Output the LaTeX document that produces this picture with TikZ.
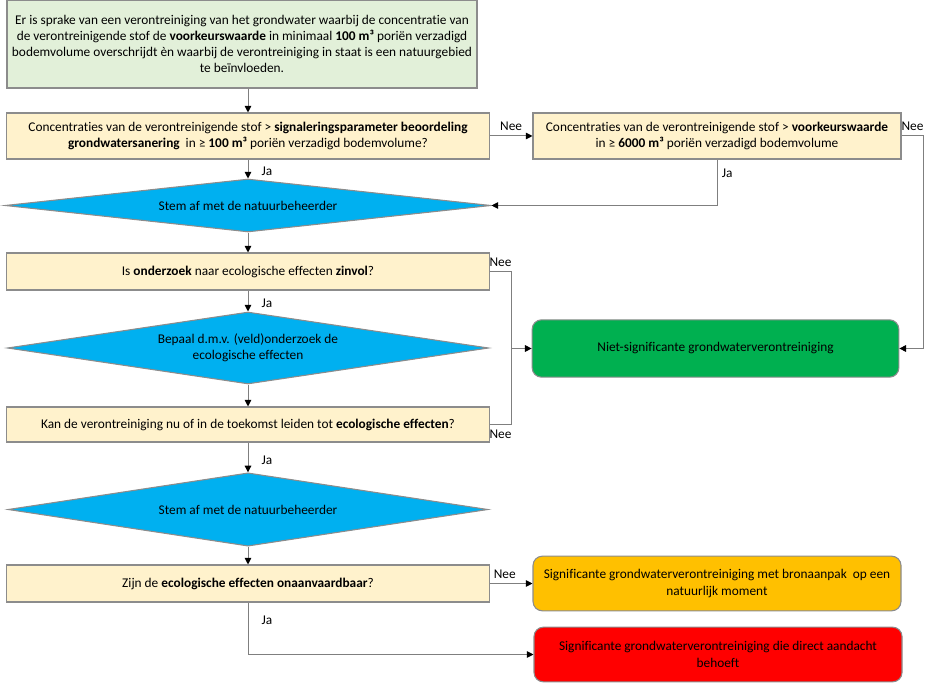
\documentclass[tikz,border=0pt]{standalone}
\usepackage{fontspec}
\setmainfont{Carlito}[Ligatures={NoCommon}, RawFeature={-clig;-calt}]
\usetikzlibrary{shapes.geometric, arrows.meta}

\definecolor{startgroen}{HTML}{E2F0D9}
\definecolor{vraaggeel}{HTML}{FFF2CC}
\definecolor{stapblauw}{HTML}{00B0F0}
\definecolor{eindgroen}{HTML}{00B050}
\definecolor{eindoranje}{HTML}{FFC000}
\definecolor{eindrood}{HTML}{FF0000}
\definecolor{rand}{HTML}{8C8C8C}
\definecolor{lijn}{HTML}{7F7F7F}

\begin{document}
\begin{tikzpicture}[x=0.75pt, y=-0.75pt,
    font=\fontsize{10}{12.2}\selectfont,
    blok/.style={draw=rand, line width=0.8pt, align=center, inner sep=2pt},
    startblok/.style={blok, fill=startgroen, minimum width=352.5pt, minimum height=66pt},
    vraag/.style={blok, fill=vraaggeel, minimum width=362pt},
    stap/.style={blok, shape=diamond, aspect=8, fill=stapblauw, inner sep=1pt},
    einde/.style={blok, rounded corners=7pt, minimum width=276pt, minimum height=41pt},
    verbinding/.style={draw=lijn, line width=0.75pt},
    pijl/.style={verbinding, -{Triangle[length=5pt, width=5pt, color=black]}},
    antwoord/.style={font=\fontsize{10}{12}\selectfont}
]
    \useasboundingbox (0,0) rectangle (945,684);

    % Main column
    \node[startblok] (start) at (242,44) {Er is sprake van een verontreiniging van het grondwater waarbij de concentratie van\\
        de verontreinigende stof de \textbf{voorkeurswaarde} in minimaal \textbf{100 m³} poriën verzadigd\\
        bodemvolume overschrijdt èn waarbij de verontreiniging in staat is een natuurgebied\\
        te beïnvloeden.};
    \node[vraag, minimum height=34.5pt] (vraag1) at (248,136) {Concentraties van de verontreinigende stof > \textbf{signaleringsparameter beoordeling}\\
        \textbf{grondwatersanering}~ in ≥ \textbf{100 m³} poriën verzadigd bodemvolume?};
    \node[stap, minimum width=364.5pt, minimum height=39.75pt] (stem1) at (248,205.5) {Stem af met de natuurbeheerder};
    \node[vraag, minimum height=27.75pt] (vraag2) at (248,271.5) {Is \textbf{onderzoek} naar ecologische effecten \textbf{zinvol}?};
    \node[stap, minimum width=361pt, minimum height=54pt] (bepaal) at (248,348) {Bepaal d.m.v. (veld)onderzoek de\\ ecologische effecten};
    \node[vraag, minimum height=26.25pt] (vraag3) at (248,424.5) {Kan de verontreiniging nu of in de toekomst leiden tot \textbf{ecologische effecten}?};
    \node[stap, minimum width=360pt, minimum height=55pt] (stem2) at (248,509.5) {Stem af met de natuurbeheerder};
    \node[vraag, minimum height=27.75pt] (vraag4) at (248,583.5) {Zijn de \textbf{ecologische effecten onaanvaardbaar}?};

    % Right column
    \node[vraag, minimum width=276pt, minimum height=34.5pt] (voorkeur) at (717,136) {Concentraties van de verontreinigende stof > \textbf{voorkeurswaarde}\\
        in ≥ \textbf{6000 m³} poriën verzadigd bodemvolume};
    \node[einde, fill=eindgroen, minimum width=275pt, minimum height=43pt] (niet) at (715.5,348.5) {Niet-significante grondwaterverontreiniging};
    \node[einde, fill=eindoranje] (oranje) at (717,583.5) {Significante grondwaterverontreiniging met bronaanpak~ op een\\ natuurlijk moment};
    \node[einde, fill=eindrood] (rood) at (718,654.5) {Significante grondwaterverontreiniging die direct aandacht\\ behoeft};

    % Arrows down the main column
    \draw[pijl] (start.south -| vraag1.north) -- (vraag1.north);
    \foreach \van/\naar in {vraag1/stem1, vraag2/bepaal, vraag3/stem2} {
        \draw[pijl] (\van.south) -- node[antwoord, pos=0.6, right=6.5pt] {Ja} (\naar.north);
    }
    \foreach \van/\naar in {stem1/vraag2, bepaal/vraag3, stem2/vraag4} {
        \draw[pijl] (\van.south) -- (\naar.north);
    }

    % Side branches
    \draw[pijl] (vraag1.east) -- node[antwoord, above] {Nee} (voorkeur.west);
    \draw[pijl] (voorkeur.south) |- node[antwoord, pos=0.15, right] {Ja} (stem1.east);
    \draw[pijl] (voorkeur.east) -- node[antwoord, above] {Nee} ++(22,0) |- (niet.east);

    \coordinate (samen) at (511,348.5);
    \draw[verbinding] (vraag2.east) -- node[antwoord, above] {Nee} (vraag2.east -| samen) -- (samen);
    \draw[verbinding] (vraag3.east) -- node[antwoord, below] {Nee} (vraag3.east -| samen) -- (samen);
    \draw[pijl] (samen) -- (niet.west);

    \draw[pijl] (vraag4.east) -- node[antwoord, above, pos=0.35] {Nee} (oranje.west);
    \draw[pijl] (vraag4.south) |- node[antwoord, pos=0.17, right=6.5pt] {Ja} (rood.west);
\end{tikzpicture}
\end{document}
